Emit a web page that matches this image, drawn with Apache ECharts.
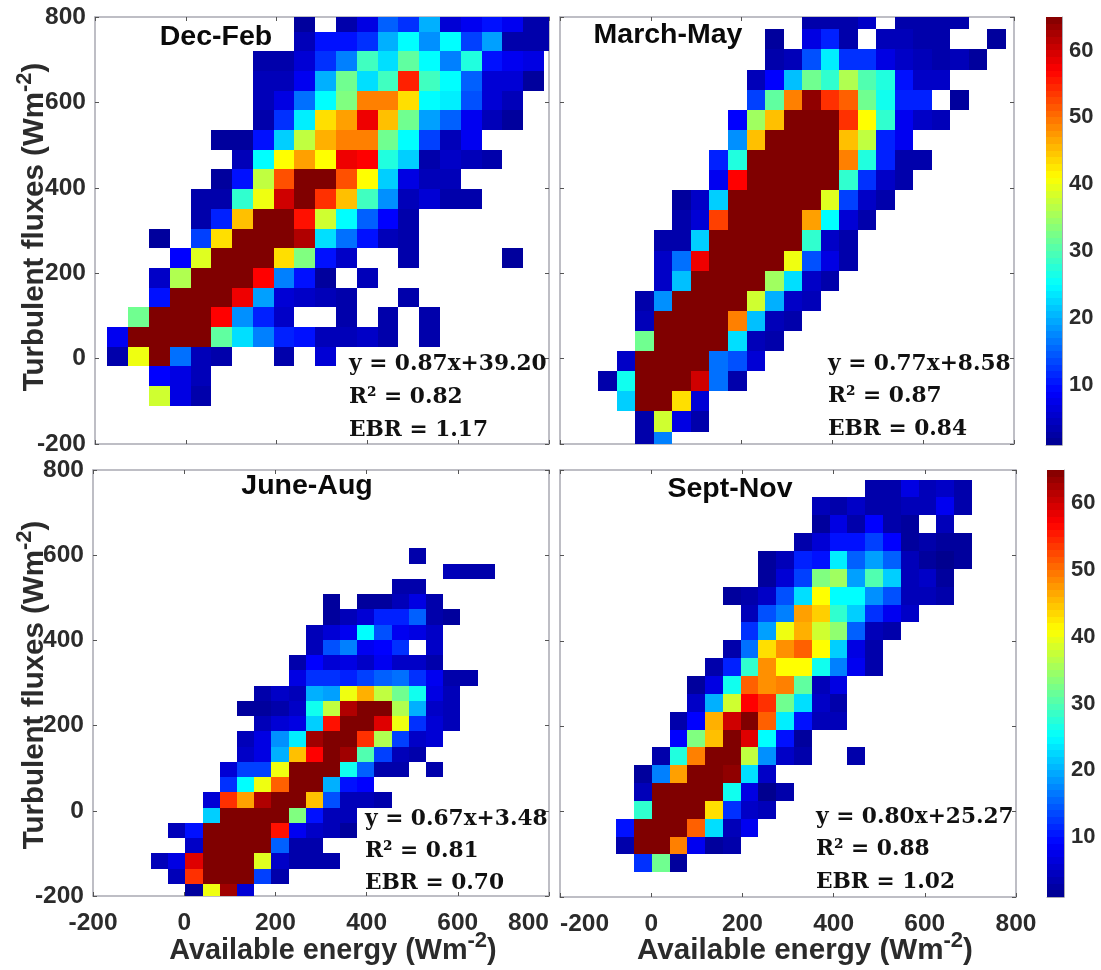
<!DOCTYPE html>
<html><head><meta charset="utf-8">
<style>html,body{margin:0;padding:0;background:#fff}#c{width:1101px;height:970px}</style>
<script src="https://cdn.jsdelivr.net/npm/echarts@6/dist/echarts.min.js"></script>
</head><body><div id="c"></div>
<script>
// Each row, top to bottom: first number = first occupied bin column, then counts (0 = empty bin)
const decFebRows = [
[9, 2,0,3,7,15,12,20,6,8,10,8,3,3],
[9, 4,10,10,12,20,25,18,25,13,19,3,3,3],
[7, 3,3,6,12,17,29,23,31,25,17,27,10,8,7],
[7, 4,4,8,20,32,23,29,55,29,25,15,6,6,2],
[7, 4,7,16,25,33,49,49,43,25,24,14,6,4],
[7, 3,12,24,43,47,58,45,32,19,15,8,4,2],
[5, 2,2,10,22,37,46,49,49,32,25,13,4,8],
[6, 4,25,41,47,41,58,57,27,22,3,5,4,3],
[5, 2,10,37,52,65,65,52,41,22,7,4,4],
[4, 3,3,28,40,60,65,54,45,29,18,4,6,3,3],
[4, 3,11,45,65,65,56,38,25,15,9,3],
[2, 2,0,13,43,65,65,65,62,23,16,10,4,3],
[3, 9,39,65,65,65,43,33,10,5,0,0,3,0,0,0,0,2],
[2, 5,36,65,65,65,57,17,10,2,0,4],
[2, 10,65,65,65,58,19,6,5,4,3,0,0,3],
[1, 32,65,65,65,57,18,11,5,0,0,3,0,3,0,3],
[0, 8,65,65,65,65,31,23,17,11,10,4,4,5,3,0,3],
[0, 3,40,65,16,4,3,0,0,3,0,6],
[2, 9,7,4],
[2, 38,7,3]
];
const marMayRows = [
[11, 3,3,3,5,0,3,3,3,3],
[9, 2,0,7,11,3,0,4,4,3,3,0,0,2],
[9, 3,4,14,24,12,12,7,5,4,3,4,2],
[8, 4,9,21,32,28,36,30,27,10,5,5],
[8, 13,31,49,64,54,51,32,26,11,11,0,2],
[7, 9,35,45,65,65,65,54,41,28,8,5,4],
[7, 18,45,65,65,65,65,45,37,11,8],
[6, 11,27,65,65,65,65,65,49,27,11,3,3],
[6, 8,57,65,65,65,65,65,28,12,5,3],
[4, 2,5,22,65,65,65,65,65,39,13,5,3],
[4, 3,6,53,65,65,65,65,47,25,6,3],
[3, 3,3,22,65,65,65,65,65,28,5,3],
[3, 5,16,58,65,65,65,65,40,14,7,3],
[3, 5,21,65,65,65,65,35,23,5,3],
[2, 3,18,65,65,65,65,38,20,5,4],
[2, 4,65,65,65,65,49,21,4,3],
[2, 32,65,65,65,65,23,4,3],
[1, 5,65,65,65,65,16,14,6],
[0, 3,26,65,65,65,60,16,3],
[1, 22,65,65,43,6],
[2, 3,38,7,3],
[2, 3,17]
];
const junAugRows = [
[15, 3],
[17, 4,3,3],
[14, 3,3],
[10, 2,0,2,2,4,7,3],
[10, 2,4,6,11,11,15,3,2],
[9, 4,6,8,25,14,8,7,5],
[9, 4,14,17,8,9,12,0,5],
[8, 3,9,6,7,5,8,5,5,3],
[8, 7,12,12,11,13,15,16,12,8,3,3],
[6, 3,5,4,20,19,40,46,37,32,26,7,4],
[5, 2,2,3,5,26,37,62,65,65,36,20,5,4],
[6, 4,6,7,22,56,65,65,59,40,12,6,4],
[5, 4,7,18,24,63,65,65,54,36,13,5,6],
[5, 5,7,20,45,57,65,63,30,13,4,3],
[4, 6,13,13,40,65,65,65,26,15,3,3,0,3],
[4, 12,25,40,51,65,65,20,10,9],
[3, 6,54,47,62,65,65,45,14,4,4,3],
[3, 22,65,65,65,65,33,10,4,4],
[1, 4,10,65,65,65,65,56,8,5,4,2],
[2, 5,65,65,65,65,15,3,3],
[0, 4,7,59,65,65,65,39,5,3,3,3],
[1, 4,54,65,65,65,13,3],
[2, 2,40,63,6]
];
const sepNovRows = [
[14, 3,3,7,4,5,3],
[11, 4,3,5,3,3,4,4,8,3],
[11, 2,7,3,9,3,2,0,4],
[10, 3,6,10,10,13,9,2,3,2,2],
[8, 2,4,11,10,24,15,19,15,4,2,1,2],
[8, 2,6,13,33,35,19,30,22,4,5,2],
[6, 2,3,5,14,23,41,25,25,18,14,4,4,3],
[7, 4,14,17,47,44,28,22,12,8,5],
[7, 12,19,40,46,38,34,15,4,3],
[6, 3,16,43,48,51,41,22,7,3],
[5, 3,11,28,48,41,41,26,17,8,3],
[4, 2,7,26,51,48,49,31,4,7],
[4, 5,20,38,57,54,32,23,5,3],
[3, 3,9,46,60,65,51,24,10,4,4],
[3, 9,33,45,65,59,25,10,2],
[2, 3,27,49,65,65,37,18,5,3,0,0,3],
[1, 2,17,47,65,65,64,23,5],
[1, 4,65,65,65,65,26,7,1,3],
[1, 28,65,65,65,43,12,5,4],
[0, 10,65,65,65,51,23,4,8],
[0, 3,65,65,49,8,2,3],
[1, 12,32,2]
];
// Bin geometry in data units (first column left edge, column width, first row top edge, row height)
const decFebBins = [-172.8, 45.8, 811.7, 46.1];
const marMayBins = [-115.6, 40.8, 818.2, 47.1];
const junAugBins = [-72.8, 37.7, 616.1, 35.8];
const sepNovBins = [-76.8, 39.0, 777.4, 41.8];

const panelTitles = ['Dec-Feb', 'March-May', 'June-Aug', 'Sept-Nov'];
const fitLines = [
  ['y = 0.87x+39.20', 'R\u00b2 = 0.82', 'EBR = 1.17'],
  ['y = 0.77x+8.58', 'R\u00b2 = 0.87', 'EBR = 0.84'],
  ['y = 0.67x+3.48', 'R\u00b2 = 0.81', 'EBR = 0.70'],
  ['y = 0.80x+25.27', 'R\u00b2 = 0.88', 'EBR = 1.02']
];
const colorbarTicks = [10, 20, 30, 40, 50, 60];
const countMin = 1, countMax = 65;
const jetStops = ['#00008f','#0000ff','#0080ff','#00ffff','#80ff80','#ffff00','#ff8000','#ff0000','#800000'];

function cells(rows, bins) {
  const out = [];
  rows.forEach((row, r) => {
    row.slice(1).forEach((v, i) => {
      if (!v) return;
      const c = row[0] + i;
      out.push([bins[0] + c * bins[1], bins[0] + (c + 1) * bins[1],
                bins[2] - (r + 1) * bins[3], bins[2] - r * bins[3], v]);
    });
  });
  return out;
}
function renderCell(params, api) {
  const p0 = api.coord([api.value(0), api.value(3)]);
  const p1 = api.coord([api.value(1), api.value(2)]);
  const x0 = Math.round(p0[0]), y0 = Math.round(p0[1]);
  const x1 = Math.round(p1[0]), y1 = Math.round(p1[1]);
  const s = params.coordSys;
  const rect = echarts.graphic.clipRectByRect(
    {x: x0, y: y0, width: x1 - x0, height: y1 - y0},
    {x: s.x, y: s.y, width: s.width, height: s.height});
  if (!rect) return;
  return {type: 'rect', shape: rect, style: {fill: api.visual('color')}};
}

const boldFont = '"Liberation Sans", Arial, sans-serif';
const labelColor = '#2b2b2b', frameColor = '#a9a9b2';
const layouts = [
  {left: 95, top: 17, width: 454, height: 427, showX: false, showY: true},
  {left: 560, top: 17, width: 454, height: 427, showX: false, showY: false},
  {left: 93, top: 470, width: 456, height: 426, showX: true, showY: true, maxAlign: 'right'},
  {left: 560, top: 470, width: 456, height: 427, showX: true, showY: false, minAlign: 'left'}
];
const colorbars = [
  {left: 1046, top: 17, width: 16, height: 428},
  {left: 1047, top: 470, width: 17, height: 427}
];
const grids = [], xAxes = [], yAxes = [], series = [];
const tickLine = {show: true, inside: true, length: 4, lineStyle: {color: '#555', width: 1}};
const line = {show: true, onZero: false, lineStyle: {color: frameColor, width: 1.5}};
const lbl = {fontFamily: boldFont, fontWeight: 'bold', fontSize: 24.5, color: labelColor};
const allRows = [decFebRows, marMayRows, junAugRows, sepNovRows];
const allBins = [decFebBins, marMayBins, junAugBins, sepNovBins];

layouts.forEach((g, i) => {
  grids.push({left: g.left, top: g.top, width: g.width, height: g.height, containLabel: false});
  const base = {type: 'value', min: -200, max: 800, interval: 200, splitLine: {show: false},
                axisLine: line, axisTick: tickLine};
  xAxes.push(Object.assign({}, base, {gridIndex: i, position: 'bottom',
    axisLabel: Object.assign({show: g.showX, margin: 15,
      alignMaxLabel: g.maxAlign || null, alignMinLabel: g.minAlign || null}, lbl)}));
  xAxes.push(Object.assign({}, base, {gridIndex: i, position: 'top', axisLabel: {show: false}}));
  yAxes.push(Object.assign({}, base, {gridIndex: i, position: 'left',
    axisLabel: Object.assign({show: g.showY, margin: 9, padding: [5, 0, 0, 0]}, lbl)}));
  yAxes.push(Object.assign({}, base, {gridIndex: i, position: 'right', axisLabel: {show: false}}));
  series.push({type: 'custom', coordinateSystem: 'cartesian2d',
    xAxisIndex: i * 2, yAxisIndex: i * 2, renderItem: renderCell, silent: true,
    encode: {x: [0, 1], y: [2, 3]}, data: cells(allRows[i], allBins[i])});
});

const levels = [];
for (let v = countMin; v < countMax; v++) levels.push([0, 1, v, v + 1, v + 0.5]);
colorbars.forEach((g, k) => {
  const gi = grids.length;
  grids.push({left: g.left, top: g.top, width: g.width, height: g.height});
  xAxes.push({type: 'value', gridIndex: gi, min: 0, max: 1, show: true, splitLine: {show: false},
    axisLine: {show: true, lineStyle: {color: frameColor, width: 1}}, axisTick: {show: false}, axisLabel: {show: false}});
  yAxes.push({type: 'value', gridIndex: gi, min: countMin, max: countMax, position: 'right', splitLine: {show: false},
    axisLine: {show: true, onZero: false, lineStyle: {color: frameColor, width: 1}},
    axisTick: {show: true, inside: true, length: 3, customValues: colorbarTicks, lineStyle: {color: '#444'}},
    axisLabel: Object.assign({margin: 7, customValues: colorbarTicks, padding: [6, 0, 0, 0]}, lbl, {fontSize: 22})});
  series.push({type: 'custom', coordinateSystem: 'cartesian2d',
    xAxisIndex: xAxes.length - 1, yAxisIndex: yAxes.length - 1, renderItem: renderCell, silent: true,
    encode: {x: [0, 1], y: [2, 3]}, data: levels});
});

// Panel titles
const titlePos = [[216, 37], [668, 35], [307, 486], [730, 489]];
const graphics = [];
panelTitles.forEach((t, i) => graphics.push({type: 'text', x: titlePos[i][0], y: titlePos[i][1], silent: true, z: 50,
  style: {text: t, font: 'bold 28.5px ' + boldFont, fill: '#0a0a0a', align: 'center', verticalAlign: 'middle'}}));
// Fit statistics
const fitPos = [[349, [364, 397, 430]], [828, [364, 396, 429]], [365, [819, 851, 883]], [816, [817, 849, 882]]];
fitLines.forEach((lines, i) => lines.forEach((t, j) => graphics.push({type: 'text', x: fitPos[i][0], y: fitPos[i][1][j], silent: true, z: 50,
  style: {text: t, font: 'bold 21.7px "DejaVu Serif", serif', fill: '#111', align: 'left', verticalAlign: 'middle'}})));
// Axis titles with superscripts
function axisTitle(text, x, y, rot, size) {
  const rich = {
    a: {font: 'bold ' + size + 'px ' + boldFont, fill: labelColor, lineHeight: 32, verticalAlign: 'bottom'},
    s: {font: 'bold 22px ' + boldFont, fill: labelColor, padding: [0, 0, 14, 0], verticalAlign: 'bottom'}
  };
  return {type: 'text', x, y, rotation: rot, silent: true, z: 50,
    style: {text: '{a|' + text + ' (Wm}{s|-2}{a|)}', rich, align: 'center', verticalAlign: 'middle'}};
}
graphics.push(axisTitle('Turbulent fluxes', 32, 227, Math.PI / 2, 29.5));
graphics.push(axisTitle('Turbulent fluxes', 32, 685, Math.PI / 2, 29.5));
graphics.push(axisTitle('Available energy', 333, 948, 0, 28.8));
graphics.push(axisTitle('Available energy', 805, 948, 0, 29.6));

const chart = echarts.init(document.getElementById('c'), null, {renderer: 'canvas', width: 1101, height: 970});
chart.setOption({
  animation: false, backgroundColor: '#fff',
  grid: grids, xAxis: xAxes, yAxis: yAxes, series,
  visualMap: {show: false, type: 'continuous', min: countMin, max: countMax, dimension: 4,
    seriesIndex: series.map((_, i) => i), inRange: {color: jetStops}},
  graphic: graphics
});
</script></body></html>
